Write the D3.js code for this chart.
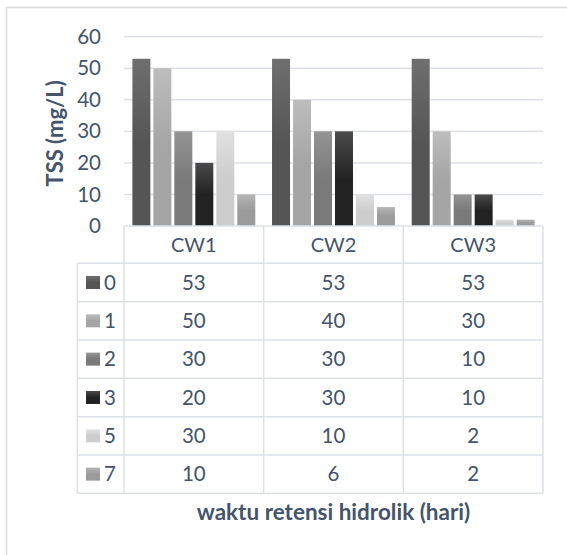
<!DOCTYPE html>
<html>
<head>
<meta charset="utf-8">
<script src="https://cdn.jsdelivr.net/npm/d3@7"></script>
<style>
  body { margin: 0; background: #fff; }
  text { font-family: Lato, "Open Sans", sans-serif; fill: #44546a; }
</style>
</head>
<body>
<div id="chart"></div>
<script>
// data
categories = ["CW1", "CW2", "CW3"];
seriesNames = ["0", "1", "2", "3", "5", "7"];
s0 = [53, 53, 53];
s1 = [50, 40, 30];
s2 = [30, 30, 10];
s3 = [20, 30, 10];
s5 = [30, 10, 2];
s7 = [10, 6, 2];
yTicks = [0, 10, 20, 30, 40, 50, 60];

values = [s0, s1, s2, s3, s5, s7];
// gradient top / bottom colours per series
topColors = ["#6f6f6f", "#bdbdbd", "#949494", "#4b4b4b", "#e1e1e1", "#b5b5b5"];
baseColors = ["#555555", "#a5a5a5", "#7a7a7a", "#222222", "#cdcdcd", "#9b9b9b"];

width = 567;
height = 555;
plot = ({left: 124, right: 543, top: 36.7, bottom: 226});
tableBottom = 493.3;
legendLeft = 77.3;
gridColor = "#dde1e6";

svg = d3.select("#chart").append("svg")
  .attr("width", width)
  .attr("height", height);

// outer chart frame (runs off the right / bottom)
svg.append("rect")
  .attr("x", 6.5).attr("y", 7.5)
  .attr("width", width + 10).attr("height", height + 10)
  .attr("fill", "#fff")
  .attr("stroke", "#d9d9d9")
  .attr("stroke-width", 1.5);

defs = svg.append("defs");
seriesNames.forEach(function(s, i) {
  var g = defs.append("linearGradient")
    .attr("id", "grad" + i)
    .attr("x1", 0).attr("y1", 0).attr("x2", 0).attr("y2", 1);
  g.append("stop").attr("offset", "0%").attr("stop-color", topColors[i]);
  g.append("stop").attr("offset", "50%").attr("stop-color", baseColors[i]);
  g.append("stop").attr("offset", "100%").attr("stop-color", baseColors[i]);
});

x0 = d3.scaleBand()
  .domain(categories)
  .range([plot.left, plot.right]);

pad = x0.bandwidth() * 0.06;
x1 = d3.scaleBand()
  .domain(seriesNames)
  .range([pad, x0.bandwidth() - pad])
  .paddingInner(1 / 7);

y = d3.scaleLinear()
  .domain([0, 60])
  .range([plot.bottom, plot.top]);

// gridlines
svg.append("g")
  .selectAll("line")
  .data(yTicks.filter(d => d > 0))
  .join("line")
  .attr("x1", plot.left).attr("x2", plot.right)
  .attr("y1", d => y(d)).attr("y2", d => y(d))
  .attr("stroke", gridColor)
  .attr("stroke-width", 1.5);

// y axis labels
yAxis = svg.append("g")
  .attr("transform", "translate(" + (plot.left - 2) + ",0)")
  .call(d3.axisLeft(y).tickValues(yTicks).tickSize(0).tickPadding(21));
yAxis.select(".domain").remove();
yAxis.selectAll("text")
  .attr("font-size", "20.5px")
  .style("font-family", "Lato, sans-serif")
  .attr("fill", "#44546a");

// bars
svg.append("g")
  .selectAll("g")
  .data(categories)
  .join("g")
  .attr("transform", d => "translate(" + x0(d) + ",0)")
  .selectAll("rect")
  .data((c, ci) => seriesNames.map((s, i) => ({s: s, i: i, v: values[i][ci]})))
  .join("rect")
  .attr("x", d => x1(d.s))
  .attr("y", d => y(d.v))
  .attr("width", x1.bandwidth())
  .attr("height", d => y(0) - y(d.v))
  .attr("fill", d => "url(#grad" + d.i + ")");

// data table
rows = d3.scaleBand()
  .domain(seriesNames)
  .range([263.3, tableBottom]);

table = svg.append("g")
  .attr("stroke", gridColor)
  .attr("stroke-width", 1.5);

// horizontal lines
table.append("line")
  .attr("x1", plot.left).attr("x2", plot.right)
  .attr("y1", plot.bottom).attr("y2", plot.bottom);
table.selectAll(".hline")
  .data(seriesNames.concat(["end"]))
  .join("line")
  .attr("class", "hline")
  .attr("x1", legendLeft).attr("x2", plot.right)
  .attr("y1", (d, i) => i < seriesNames.length ? rows(d) : tableBottom)
  .attr("y2", (d, i) => i < seriesNames.length ? rows(d) : tableBottom);

// vertical lines
table.append("line")
  .attr("x1", legendLeft).attr("x2", legendLeft)
  .attr("y1", rows(seriesNames[0])).attr("y2", tableBottom);
table.selectAll(".vline")
  .data(categories.concat(["end"]))
  .join("line")
  .attr("class", "vline")
  .attr("x1", (d, i) => i < categories.length ? x0(d) : plot.right)
  .attr("x2", (d, i) => i < categories.length ? x0(d) : plot.right)
  .attr("y1", plot.bottom).attr("y2", tableBottom);

// header
svg.append("g")
  .selectAll("text")
  .data(categories)
  .join("text")
  .attr("x", d => x0(d) + x0.bandwidth() / 2)
  .attr("y", (plot.bottom + rows(seriesNames[0])) / 2)
  .attr("dy", "0.35em")
  .attr("text-anchor", "middle")
  .attr("font-size", "20px")
  .text(d => d);

// legend keys + row labels
legend = svg.append("g")
  .selectAll("g")
  .data(seriesNames)
  .join("g")
  .attr("transform", d => "translate(0," + (rows(d) + rows.bandwidth() / 2) + ")");
legend.append("rect")
  .attr("x", 86).attr("y", -6.5)
  .attr("width", 14).attr("height", 13)
  .attr("fill", (d, i) => "url(#grad" + i + ")");
legend.append("text")
  .attr("x", 104)
  .attr("dy", "0.35em")
  .attr("font-size", "20.5px")
  .text(d => d);

// cell values
seriesNames.forEach(function(s, i) {
  svg.append("g")
    .selectAll("text")
    .data(values[i])
    .join("text")
    .attr("x", (d, ci) => x0(categories[ci]) + x0.bandwidth() / 2)
    .attr("y", rows(s) + rows.bandwidth() / 2)
    .attr("dy", "0.35em")
    .attr("text-anchor", "middle")
    .attr("font-size", "20.5px")
    .text(d => d);
});

// axis titles
svg.append("text")
  .attr("x", (plot.left + plot.right) / 2)
  .attr("y", 519.5)
  .attr("text-anchor", "middle")
  .attr("font-size", "22.5px")
  .attr("font-weight", "bold")
  .text("waktu retensi hidrolik (hari)");

svg.append("text")
  .attr("transform", "translate(63," + ((plot.top + plot.bottom) / 2 + 2) + ") rotate(-90)")
  .attr("text-anchor", "middle")
  .attr("font-size", "22px")
  .attr("font-weight", "bold")
  .text("TSS (mg/L)");
</script>
</body>
</html>
